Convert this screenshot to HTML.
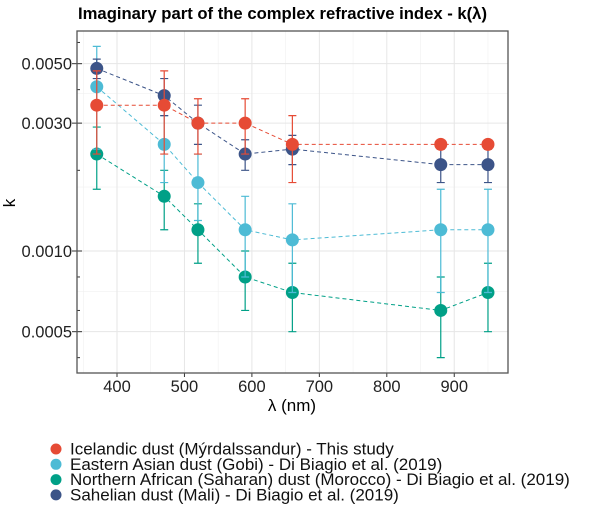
<!DOCTYPE html>
<html><head><meta charset="utf-8"><style>
body{margin:0;background:#fff;font-family:"Liberation Sans",Arial,sans-serif}
svg text{font-family:"Liberation Sans",Arial,sans-serif}
</style></head><body>
<svg id="chart" width="600" height="509" xmlns="http://www.w3.org/2000/svg">
<text x="78" y="19" font-size="16.5" font-weight="bold" textLength="409" lengthAdjust="spacingAndGlyphs">Imaginary part of the complex refractive index -  k(λ)</text>
<g id="grid"></g><g id="axes"></g><g id="series"></g>
<text x="292" y="411" text-anchor="middle" font-size="17">λ (nm)</text>
<text x="15" y="203" text-anchor="middle" font-size="17" transform="rotate(-90 15 203)">k</text>
<g id="legend"></g>
</svg>
<script>
const wavelengths=[370,470,520,590,660,880,950];
const seriesNames=["Icelandic dust (Mýrdalssandur) - This study","Eastern Asian dust (Gobi) - Di Biagio et al. (2019)","Northern African (Saharan) dust (Morocco) - Di Biagio et al. (2019)","Sahelian dust (Mali) - Di Biagio et al. (2019)"];
const icelandK=[0.0035,0.0035,0.003,0.003,0.0025,0.0025,0.0025];
const icelandErr=[0.0012,0.0012,0.0007,0.0007,0.0007,0,0];
const asiaK=[0.0041,0.0025,0.0018,0.0012,0.0011,0.0012,0.0012];
const asiaErr=[0.0017,0.0007,0.0005,0.0004,0.0004,0.0005,0.0005];
const africaK=[0.0023,0.0016,0.0012,0.0008,0.0007,0.0006,0.0007];
const africaErr=[0.0006,0.0004,0.0003,0.0002,0.0002,0.0002,0.0002];
const sahelK=[0.0048,0.0038,0.003,0.0023,0.0024,0.0021,0.0021];
const sahelErr=[0.0004,0.0006,0.0005,0.0003,0.0003,0.0003,0.0003];
const xTicks=[400,500,600,700,800,900];
const yTicks=[0.0005,0.001,0.003,0.005];
const yTickLabels=["0.0005","0.0010","0.0030","0.0050"];
const yLogTicks=[0.0004,0.0006,0.0008,0.002,0.004,0.006];
const colors=["#E64B35","#4DBBD5","#00A087","#3C5488"];
const NS="http://www.w3.org/2000/svg";
const L=77,R=508,T=31,B=373;
const x=v=>117+(v-400)*0.6745;
const y=v=>251-Math.log10(v/0.001)*268;
function mk(p,t,a){const e=document.createElementNS(NS,t);for(const k in a)e.setAttribute(k,a[k]);p.appendChild(e);return e;}
const grid=document.getElementById('grid'),axes=document.getElementById('axes'),ser=document.getElementById('series'),leg=document.getElementById('legend');
for(let v=350;v<=950;v+=100){const g=mk(grid,'line',{x1:x(v),x2:x(v),y1:T,y2:B,stroke:'#f0f0f0','stroke-width':0.6});

}
for(let i=0;i<yTicks.length-1;i++){const m=Math.sqrt(yTicks[i]*yTicks[i+1]);const g=mk(grid,'line',{x1:L,x2:R,y1:y(m),y2:y(m),stroke:'#f0f0f0','stroke-width':0.6});

}
xTicks.forEach(v=>{const g=mk(grid,'line',{x1:x(v),x2:x(v),y1:T,y2:B,stroke:'#e6e6e6','stroke-width':1});


const t=mk(axes,'line',{x1:x(v),x2:x(v),y1:B,y2:B+4,stroke:'#333'});


const l=mk(axes,'text',{x:x(v),y:B+19,'text-anchor':'middle','font-size':16.5,fill:'#222'});l.textContent=v;

});
yTicks.forEach((v,i)=>{const g=mk(grid,'line',{x1:L,x2:R,y1:y(v),y2:y(v),stroke:'#e6e6e6','stroke-width':1});


const t=mk(axes,'line',{x1:L-5,x2:L+5,y1:y(v),y2:y(v),stroke:'#333'});


const l=mk(axes,'text',{x:L-5,y:y(v)+6,'text-anchor':'end','font-size':16.5,fill:'#222'});l.textContent=yTickLabels[i];

});
yLogTicks.forEach(v=>{const t=mk(axes,'line',{x1:L,x2:L+3,y1:y(v),y2:y(v),stroke:'#333'});

});
const fr=mk(axes,'rect',{x:L,y:T,width:R-L,height:B-T,fill:'none',stroke:'#555','stroke-width':1.3});


const data=[[icelandK,icelandErr],[asiaK,asiaErr],[africaK,africaErr],[sahelK,sahelErr]];
const order=[2,1,3,0];
order.forEach(s=>{const [k,e]=data[s];const c=colors[s];
const g=mk(ser,'g',{});


const pl=mk(g,'polyline',{points:wavelengths.map((w,i)=>x(w)+','+y(k[i])).join(' '),fill:'none',stroke:c,'stroke-width':1,'stroke-dasharray':'4,3'});


wavelengths.forEach((w,i)=>{if(e[i]>0){const hi=y(k[i]+e[i]),lo=y(k[i]-e[i]),cx=x(w);
const eb=mk(g,'path',{d:`M${cx},${hi}V${lo}M${cx-4},${hi}H${cx+4}M${cx-4},${lo}H${cx+4}`,stroke:c,'stroke-width':1.2,fill:'none'});

}
const p=mk(g,'circle',{cx:x(w),cy:y(k[i]),r:6.5,fill:c});

});});
seriesNames.forEach((n,i)=>{const yy=449+i*15.3;
const d=mk(leg,'circle',{cx:56,cy:yy,r:5.5,fill:colors[i]});


const t=mk(leg,'text',{x:70,y:yy+5.5,'font-size':17,fill:'#111'});t.textContent=n;

});
</script>
</body></html>
